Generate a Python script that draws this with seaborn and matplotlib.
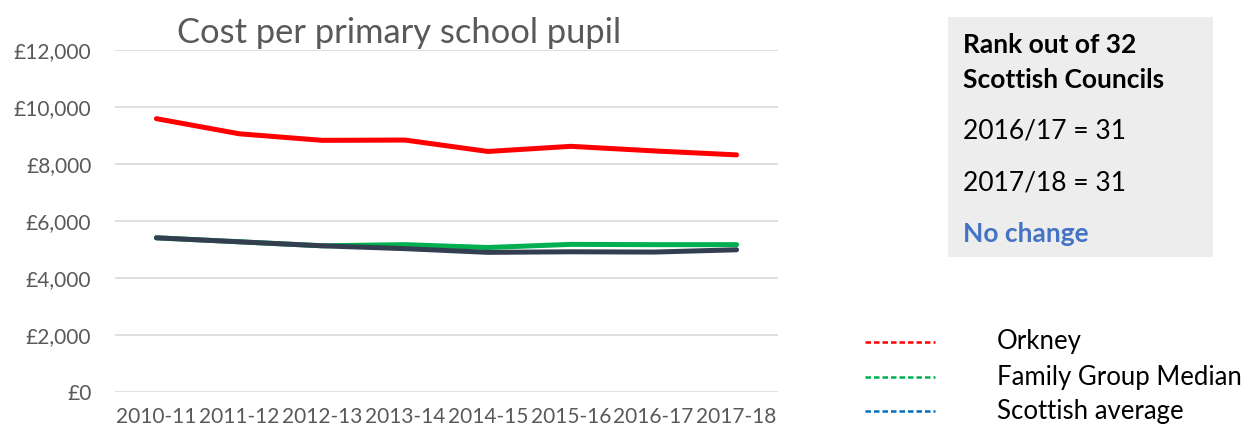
import pandas as pd
import matplotlib
matplotlib.use("Agg")
import matplotlib.pyplot as plt
import seaborn as sns
from matplotlib.lines import Line2D
from matplotlib.patches import Rectangle
from matplotlib.ticker import FuncFormatter

# data
years = ["2010-11", "2011-12", "2012-13", "2013-14", "2014-15", "2015-16", "2016-17", "2017-18"]
orkney = [9590, 9060, 8830, 8840, 8440, 8620, 8460, 8320]
family_median = [5410, 5270, 5130, 5170, 5070, 5180, 5170, 5170]
scottish_avg = [5410, 5270, 5130, 5030, 4900, 4920, 4910, 4990]

series_names = ["Orkney", "Family Group Median", "Scottish average"]
line_colors = ["#FF0000", "#00B050", "#333F50"]
legend_colors = ["#FF0000", "#00B050", "#0070C0"]

df = pd.DataFrame({
    "Year": years * 3,
    "Cost": orkney + family_median + scottish_avg,
    "Series": [series_names[0]] * 8 + [series_names[1]] * 8 + [series_names[2]] * 8,
})

sns.set_style("white")
plt.rcParams["font.family"] = ["Lato", "DejaVu Sans"]

fig = plt.figure(figsize=(12.58, 4.32), dpi=100)
ax = fig.add_axes([115 / 1258, 1 - 392 / 432, 663 / 1258, 342 / 432])

sns.lineplot(data=df, x="Year", y="Cost", hue="Series", hue_order=series_names,
             palette=line_colors, linewidth=3.6, legend=False, ax=ax,
             solid_capstyle="round", sort=False)

ax.set_xlim(-0.5, 7.5)
ax.set_ylim(0, 12000)
ax.set_yticks(range(0, 12001, 2000))
ax.yaxis.set_major_formatter(FuncFormatter(lambda v, p: f"£{int(v):,}"))
ax.grid(axis="y", color="#d9d9d9", linewidth=1.2)
ax.grid(axis="x", visible=False)
ax.set_axisbelow(True)
for s in ax.spines.values():
    s.set_visible(False)
ax.set_xlabel("")
ax.set_ylabel("")
ax.tick_params(axis="y", length=0, pad=17, labelsize=15, labelcolor="#595959")
ax.tick_params(axis="x", length=0, pad=11, labelsize=15, labelcolor="#595959")

fig.text(177 / 1258, 1 - 43 / 432, "Cost per primary school pupil", fontsize=24.8,
         color="#595959", ha="left", va="baseline")

# rank box
fig.add_artist(Rectangle((948 / 1258, 1 - 257 / 432), 265 / 1258, 240 / 432,
                         transform=fig.transFigure, facecolor="#EDEDED", edgecolor="none"))
box_lines = [
    ("Rank out of 32", 53, "bold", "black"),
    ("Scottish Councils", 88, "bold", "black"),
    ("2016/17 = 31", 138, "normal", "black"),
    ("2017/18 = 31", 190, "normal", "black"),
    ("No change", 242, "bold", "#4472C4"),
]
for txt, yb, w, c in box_lines:
    fig.text(963 / 1258, 1 - yb / 432, txt, fontsize=19, fontweight=w, color=c,
             ha="left", va="baseline")

# legend
for name, col, yc in zip(series_names, legend_colors, [342, 377, 411]):
    fig.add_artist(Line2D([865 / 1258, 935 / 1258], [1 - yc / 432, 1 - yc / 432],
                          transform=fig.transFigure, color=col, linewidth=1.8,
                          linestyle=(0, (2.2, 1.2))))
    fig.text(997 / 1258, 1 - yc / 432, name, fontsize=18.5, color="black",
             ha="left", va="center")

fig.savefig("out.png", dpi=100)
